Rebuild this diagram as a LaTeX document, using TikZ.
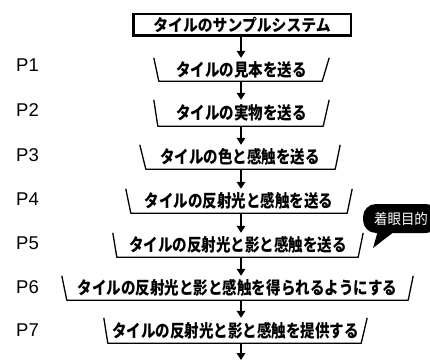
\documentclass[tikz,border=0pt]{standalone}
\usepackage{fontspec}
\newfontfamily\jp{Noto Sans CJK JP}[FakeStretch=0.83]
\newfontfamily\jpt{Noto Sans CJK JP}[FakeStretch=0.9]
\newfontfamily\jpb{Noto Sans CJK JP}[FakeStretch=0.93]
\newfontfamily\lab{Liberation Sans}
\usetikzlibrary{arrows.meta}
\begin{document}
\begin{tikzpicture}[x=1pt,y=-1pt,
  stepnode/.style={inner sep=0pt, font=\jp\bfseries\fontsize{17.5}{19}\selectfont},
  trap/.style={line width=1.3pt, line join=round},
  flow/.style={line width=2.6pt, -{Triangle[width=8.5pt,length=7pt]}},
  plabel/.style={font=\lab\fontsize{18.5}{21}\selectfont, inner sep=0pt}]
\useasboundingbox (0,0) rectangle (430,361);

% title
\node[draw, line width=2.5pt, minimum width=217.5pt, minimum height=21.5pt, inner sep=0pt,
      font=\jpt\bfseries\fontsize{16.5}{18}\selectfont] (title) at (242,25) {タイルのサンプルシステム};

% steps
\node[stepnode, minimum width=175pt, minimum height=23pt] (s1) at (241.5,69.5) {タイルの見本を送る};
\node[stepnode, minimum width=175pt, minimum height=26pt] (s2) at (241.5,113) {タイルの実物を送る};
\node[stepnode, minimum width=200pt, minimum height=24pt] (s3) at (240,157) {タイルの色と感触を送る};
\node[stepnode, minimum width=226pt, minimum height=24pt] (s4) at (239,201) {タイルの反射光と感触を送る};
\node[stepnode, minimum width=250pt, minimum height=24pt] (s5) at (238,245) {タイルの反射光と影と感触を送る};
\node[stepnode, minimum width=351pt, minimum height=24pt] (s6) at (237.5,288) {タイルの反射光と影と感触を得られるようにする};
\node[stepnode, minimum width=263pt, minimum height=25pt] (s7) at (235.5,330.5) {タイルの反射光と影と感触を提供する};

\draw[trap] (s1.north west) -- ([xshift=5pt]s1.south west) -- ([xshift=-7pt]s1.south east) -- (s1.north east);
\draw[trap] (s2.north west) -- ([xshift=4pt]s2.south west) -- ([xshift=-6pt]s2.south east) -- (s2.north east);
\draw[trap] (s3.north west) -- ([xshift=6pt]s3.south west) -- ([xshift=-5pt]s3.south east) -- (s3.north east);
\draw[trap] (s4.north west) -- ([xshift=5pt]s4.south west) -- ([xshift=-5pt]s4.south east) -- (s4.north east);
\draw[trap] (s5.north west) -- ([xshift=4pt]s5.south west) -- ([xshift=-5pt]s5.south east) -- (s5.north east);
\draw[trap] (s6.north west) -- ([xshift=5pt]s6.south west) -- ([xshift=-5pt]s6.south east) -- (s6.north east);
\draw[trap] (s7.north west) -- ([xshift=4pt]s7.south west) -- ([xshift=-6pt]s7.south east) -- (s7.north east);

% arrows
\coordinate (ax) at (241,0);
\coordinate (end) at (241,360);
\draw[flow] (title.south -| ax) -- (s1.north -| ax);
\draw[flow] (s1.south -| ax) -- (s2.north -| ax);
\draw[flow] (s2.south -| ax) -- (s3.north -| ax);
\draw[flow] (s3.south -| ax) -- (s4.north -| ax);
\draw[flow] (s4.south -| ax) -- (s5.north -| ax);
\draw[flow] (s5.south -| ax) -- (s6.north -| ax);
\draw[flow] (s6.south -| ax) -- (s7.north -| ax);
\draw[flow] (s7.south -| ax) -- (end);

% labels
\node[plabel] (p1) at (27.5,65) {P1};
\node[plabel] (p2) at (27.5,110) {P2};
\node[plabel] (p3) at (27.5,155) {P3};
\node[plabel] (p4) at (27.5,199) {P4};
\node[plabel] (p5) at (27.5,243) {P5};
\node[plabel] (p6) at (27.5,287) {P6};
\node[plabel] (p7) at (27.5,330) {P7};

% speech bubble
\node[fill=black, rounded corners=13pt, minimum width=76pt, minimum height=29pt, inner sep=0pt,
      text=white, font=\jpb\fontsize{14.5}{16}\selectfont] (bub) at (401,218.5) {着眼目的};
\coordinate (tip) at (373,248);
\fill ([xshift=15pt,yshift=2pt]bub.south west) -- (tip) -- ([xshift=32pt,yshift=2pt]bub.south west) -- cycle;
\end{tikzpicture}
\end{document}
